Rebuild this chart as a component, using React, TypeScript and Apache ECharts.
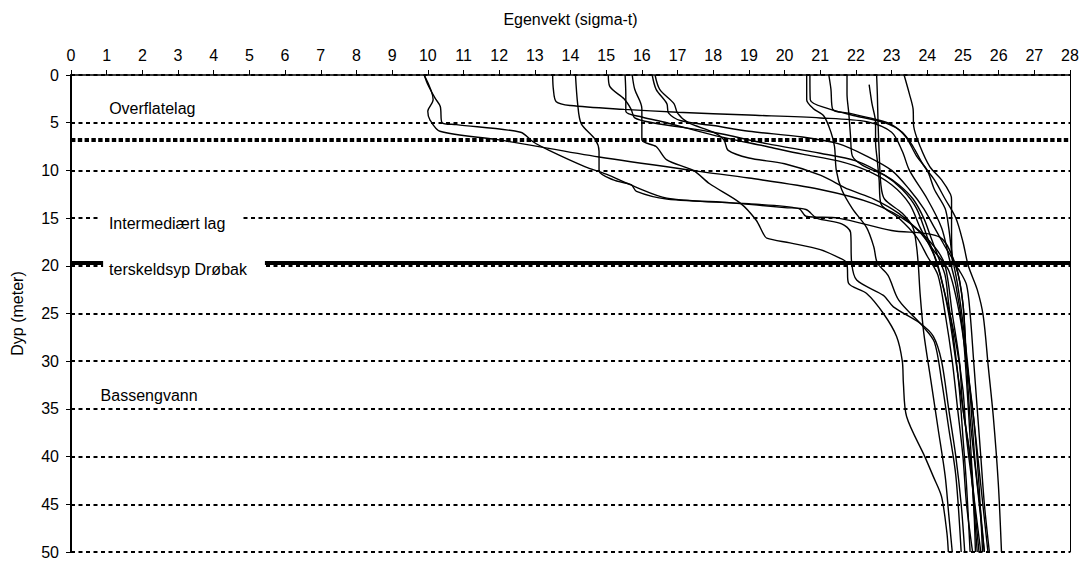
import React, { useEffect, useRef } from "react";
import * as echarts from "echarts";

// Each profile: [sigma-t, depth (m)]
const profile01 = [[9.9,0],[10.0,1],[10.2,2.4],[10.35,3.3],[10.4,5.0],[10.8,5.2],[12.6,6.0],[12.95,7.0],[13.4,7.9],[14.4,9.6],[15.0,10.4],[15.8,11.7],[16.7,12.9],[18.5,13.4],[20.0,13.9],[20.6,14.1],[20.9,15.0],[21.6,15.6],[21.85,16.5],[21.88,19.7],[22.02,21.5],[22.77,23.1],[23.05,24.3],[23.79,26],[24.17,27.4],[24.4,30],[24.6,35],[24.8,40],[24.95,45],[25.05,50]];
const profile02 = [[9.9,0],[10.15,2.6],[10.0,3.8],[10.06,4.7],[10.34,5.9],[12.0,6.8],[14.8,8.6],[17.6,10.1],[19.0,10.8],[21.0,12.0],[22.5,13.5],[23.5,15.5],[24.2,18],[24.5,20],[24.7,25],[24.9,30],[25.0,35],[25.2,40],[25.3,45],[25.4,50]];
const profile03 = [[13.5,0],[13.52,1.5],[13.6,2.8],[14.0,3.2],[15.5,3.6],[17.0,3.9],[19.0,4.2],[21.0,4.5],[22.3,4.9],[23.0,6.0],[23.3,8],[23.5,10],[24.0,13],[24.4,16],[24.6,19],[24.8,22],[25.0,27],[25.1,32],[25.2,38],[25.3,44],[25.45,50]];
const profile04 = [[14.14,0],[14.2,3],[14.3,5.1],[14.7,6.8],[14.8,8],[14.8,10],[15.2,11],[15.7,11.5],[15.85,12.2],[16.7,13.0],[19.0,13.5],[20.4,14.0],[20.6,14.8],[21.5,15.0],[23.0,16.3],[24.35,17.0],[24.8,20],[25.0,24],[25.1,30],[25.2,36],[25.4,43],[25.6,50]];
const profile05 = [[15.06,0],[15.1,1.2],[15.5,2.5],[15.7,3.6],[15.8,4.5],[16.3,5.0],[18.0,6.0],[19.5,7.2],[21.0,8.2],[22.0,9.0],[22.8,10.5],[23.3,12],[23.7,14],[24.0,17],[24.3,20],[24.6,25],[24.8,30],[25.0,35],[25.2,40],[25.3,45],[25.35,50]];
const profile06 = [[15.53,0],[15.55,2],[15.55,3.8],[16.0,4.4],[16.7,5.0],[18.0,6.3],[19.5,7.5],[20.5,8.3],[21.5,9.0],[22.3,10.0],[23.0,11.5],[23.5,13.5],[23.8,16],[24.2,19],[24.5,23],[24.8,28],[25.0,33],[25.1,38],[25.3,44],[25.5,50]];
const profile07 = [[15.73,0],[15.8,1.5],[16.0,3.5],[16.0,6.8],[16.4,7.5],[16.7,8.9],[17.44,10.0],[17.9,11.4],[18.75,13.4],[19.2,15.2],[19.4,16.6],[19.5,17.1],[20.15,17.6],[21.0,18.3],[21.55,19.2],[21.74,19.7],[21.79,21.8],[22.3,22.9],[22.77,25],[23.14,27.4],[23.3,30],[23.33,32.3],[23.42,35.8],[23.93,40],[24.17,42.1],[24.4,44.2],[24.55,48],[24.59,50]];
const profile08 = [[16.29,0],[16.4,1.5],[16.7,3.0],[16.75,4.0],[17.1,4.8],[18.0,5.3],[19.0,5.9],[20.5,6.5],[21.5,7.2],[22.3,8.5],[23.0,10],[23.5,12],[23.9,14],[24.2,16],[24.5,18],[24.8,20],[25.0,24],[25.1,30],[25.3,36],[25.5,43],[25.7,50]];
const profile09 = [[16.37,0],[16.5,1.5],[16.9,3.0],[17.0,4.0],[17.3,5.0],[18.0,6.0],[18.3,6.8],[18.42,7.9],[19.0,8.7],[20.0,9.3],[21.0,10.5],[21.8,12],[22.5,13],[23.2,14.5],[23.8,16.5],[24.2,18.5],[24.6,20.5],[24.9,25],[25.1,30],[25.3,36],[25.45,43],[25.55,50]];
const profile10 = [[20.62,0],[20.62,2.6],[20.8,3.5],[21.1,4.3],[21.3,6.0],[21.4,7.5],[21.45,10],[21.6,12],[21.9,14],[22.3,16],[22.5,18],[22.6,19.7],[22.9,21],[23.2,23.6],[23.89,26.4],[24.2,28],[24.4,32],[24.6,37],[24.8,42],[24.95,50]];
const profile11 = [[20.71,0],[20.72,2.6],[21.2,3.5],[22.0,4.3],[22.8,5.0],[23.3,6.0],[23.6,7.5],[23.9,9.5],[24.2,11],[24.5,13],[24.8,15],[25.0,17.5],[25.15,20],[25.4,22.5],[25.57,25.3],[25.71,30.6],[25.85,35.8],[25.99,42.8],[26.08,50]];
const profile12 = [[21.24,0],[21.3,1.5],[21.35,3.6],[21.8,4.0],[22.5,4.6],[23.0,5.2],[23.4,6.5],[23.7,8.5],[24.0,10],[24.2,12],[24.5,14],[24.6,16],[24.7,19],[24.85,22],[25.0,26],[25.15,31],[25.25,36],[25.35,41],[25.5,46],[25.6,50]];
const profile13 = [[21.75,0],[21.75,2],[21.8,4.0],[21.85,6.5],[21.9,8.5],[22.2,9.5],[22.8,10.5],[23.2,11.5],[23.6,13],[23.9,15],[24.1,17],[24.3,19],[24.5,21],[24.6,24],[24.75,28],[24.9,33],[25.0,38],[25.1,43],[25.2,50]];
const profile14 = [[22.37,1.0],[22.45,3.0],[22.55,5.0],[22.55,7.0],[22.6,9.0],[22.65,11],[22.7,13.5],[23.2,15],[23.7,17],[24.0,19],[24.3,21],[24.5,25],[24.7,30],[24.85,35],[25.0,40],[25.1,45],[25.27,50]];
const profile15 = [[22.58,0],[22.6,2],[22.62,5],[22.65,8],[22.7,11.5],[22.8,13],[23.3,14.5],[23.6,16],[23.7,18],[23.75,20],[23.8,23],[23.9,27],[24.1,32],[24.3,37],[24.5,42],[24.6,46],[24.7,50]];
const profile16 = [[23.35,0],[23.5,2],[23.6,3.5],[23.62,5.4],[23.8,7.5],[24.07,9.6],[24.4,11],[24.65,12.5],[24.68,13.1],[24.68,16],[24.7,19.4],[24.9,20.5],[25.1,22],[25.2,25],[25.3,30],[25.4,35],[25.5,40],[25.6,45],[25.74,50]];

const profiles = [profile01, profile02, profile03, profile04, profile05, profile06, profile07, profile08,
  profile09, profile10, profile11, profile12, profile13, profile14, profile15, profile16];

const xTickMin = 0;
const xTickMax = 28;
const depthMin = 0;
const depthMax = 50;
const surfaceLayerDepth = 6.75;
const sillDepth = 19.7;

const layerLabels = [
  { text: "Overflatelag", value: 1.07, depth: 3.5, bg: false, padding: [0, 0, 0, 0] },
  { text: "Intermediært lag", value: 0.81, depth: 15.55, bg: true, padding: [2, 16, 2, 9] },
  { text: "terskeldsyp Drøbak", value: 0.9, depth: 20.4, bg: true, padding: [4, 18, 2, 6] },
  { text: "Bassengvann", value: 0.83, depth: 33.6, bg: false, padding: [0, 0, 0, 0] },
];

const FONT = "'Liberation Sans', Arial, sans-serif";

export default function App() {
  const ref = useRef<HTMLDivElement>(null);
  useEffect(() => {
    const chart = echarts.init(ref.current!, null, { renderer: "svg" });
    const option: any = {
      animation: false,
      textStyle: { fontFamily: FONT, color: "#000" },
      grid: { left: 71, top: 75, width: 999, height: 477, containLabel: false },
      xAxis: {
        type: "value",
        position: "top",
        min: xTickMin,
        max: xTickMax,
        interval: 1,
        name: "Egenvekt (sigma-t)",
        nameLocation: "middle",
        nameGap: 48,
        nameTextStyle: { fontSize: 16, color: "#000", fontFamily: FONT },
        axisLine: { show: true, onZero: false, lineStyle: { color: "#000", width: 1.5 } },
        axisTick: { show: true, inside: false, length: 5, lineStyle: { color: "#000", width: 1 } },
        axisLabel: { fontSize: 16, color: "#000", margin: 12, fontFamily: FONT },
        splitLine: { show: false },
      },
      yAxis: [
        {
          type: "value",
          inverse: true,
          min: depthMin,
          max: depthMax,
          interval: 5,
          name: "Dyp (meter)",
          nameLocation: "middle",
          nameGap: 46,
          nameRotate: 90,
          nameTextStyle: { fontSize: 16, color: "#000", fontFamily: FONT },
          axisLine: { show: true, onZero: false, lineStyle: { color: "#000", width: 2 } },
          axisTick: { show: true, length: 5, lineStyle: { color: "#000", width: 1 } },
          axisLabel: { fontSize: 16, color: "#000", margin: 12, fontFamily: FONT },
          splitLine: { show: true, lineStyle: { color: "#000", width: 2, type: [4, 3.5] } },
        },
        {
          type: "value",
          position: "right",
          inverse: true,
          min: depthMin,
          max: depthMax,
          interval: 5,
          axisLine: { show: true, onZero: false, lineStyle: { color: "#000", width: 1 } },
          axisTick: { show: false },
          axisLabel: { show: false },
          splitLine: { show: false },
        },
      ],
      series: profiles.map((p, i) => ({
        type: "line",
        data: p,
        xAxisIndex: 0,
        yAxisIndex: 0,
        symbol: "none",
        smooth: 0.3,
        silent: true,
        lineStyle: { color: "#000", width: 1.4 },
        z: 3,
        markLine:
          i === 0
            ? {
                silent: true,
                symbol: ["none", "none"],
                label: { show: false },
                data: [
                  { yAxis: surfaceLayerDepth, lineStyle: { color: "#000", width: 4, type: [4.4, 2.4] } },
                  { yAxis: sillDepth, lineStyle: { color: "#000", width: 4, type: "solid" } },
                ],
              }
            : undefined,
      })),
    };
    chart.setOption(option);
    const graphics = layerLabels.map((l) => {
      const [px, py] = chart.convertToPixel({ gridIndex: 0 }, [l.value, l.depth]) as number[];
      return {
        type: "text",
        x: px,
        y: py,
        z: 100,
        style: {
          text: l.text,
          fontSize: 16,
          fontFamily: FONT,
          fill: "#000",
          align: "left",
          verticalAlign: "middle",
          backgroundColor: l.bg ? "#fff" : "transparent",
          padding: l.padding,
        },
      };
    });
    chart.setOption({ graphic: graphics });
    return () => chart.dispose();
  }, []);
  return <div ref={ref} style={{ position: "absolute", left: 0, top: 0, width: 1085, height: 564 }} />;
}
